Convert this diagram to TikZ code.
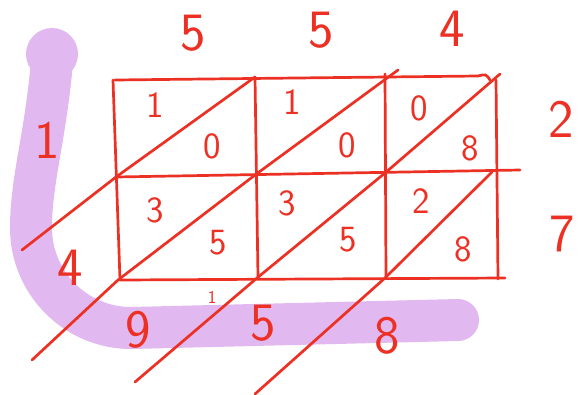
\documentclass[tikz,border=0pt]{standalone}
\usepackage{tikz}
\definecolor{pen}{RGB}{236,48,36}
\definecolor{marker}{RGB}{226,184,240}
\tikzset{
  ink/.style={draw=pen, line width=2.7pt, line cap=round, line join=round},
  cellnum/.style={text=pen, inner sep=0pt, font=\sffamily\fontsize{37}{37}\selectfont},
  bignum/.style={text=pen, inner sep=0pt, font=\sffamily\fontsize{54}{54}\selectfont},
  tinynum/.style={text=pen, inner sep=0pt, font=\sffamily\fontsize{18}{18}\selectfont}
}

\begin{document}
\begin{tikzpicture}[x=1pt,y=-1pt]
\useasboundingbox (0,0) rectangle (585,394);

% Маркер (сумма по диагоналям)
\draw[marker, line width=42pt, line cap=round]
  (52,62) .. controls (45,140) and (31,180) .. (31,228)
  .. controls (31,283) and (76,328) .. (131,328) -- (458,320);
\fill[marker] (52,54) circle (26pt);

% Углы сетки
\coordinate (tl) at (115,80);  \coordinate (tr) at (478,76);
\coordinate (bl) at (120,280); \coordinate (br) at (505,278);
\coordinate (ml) at (116,177); \coordinate (mr) at (520,170);
\coordinate (c1t) at (255,77); \coordinate (c1b) at (258,278);
\coordinate (c2t) at (385,74); \coordinate (c2b) at (386,278);
\coordinate (rt) at (496,80);  \coordinate (rb) at (498,279);

% Сетка
\draw[ink] (tl) -- (tr) .. controls (486,74) .. (490,80);
\draw[ink] (113,80) -- (bl);
\draw[ink] (c1t) -- (c1b);
\draw[ink] (c2t) -- (c2b);
\draw[ink] (rt) -- (rb);
\draw[ink] (ml) -- (mr);
\draw[ink] (bl) -- (br);

% Диагонали
\draw[ink] (c1t) -- (ml) -- (22,250);
\draw[ink] (398,70) -- (255,175) -- (118,280) -- (32,360);
\draw[ink] (500,74) -- (385,173) -- (257,278) -- (135,382);
\draw[ink] (492,172) -- (385,278) -- (255,394);

% Множители
\node[bignum] (a1) at (193,33) {5};
\node[bignum] (a2) at (321,30) {5};
\node[bignum] (a3) at (452,29) {4};
\node[bignum] (b1) at (561,119) {2};
\node[bignum] (b2) at (562,234) {7};

% Произведения в клетках
\foreach \name/\x/\y/\d in {p1/155/105/1, q1/212/146/0, p2/292/102/1, q2/347/145/0,
                            p3/419/108/0, q3/470/148/8, p4/155/210/3, q4/218/243/5,
                            p5/287/203/3, q5/348/240/5, p6/421/201/2, q6/463/249/8}
  \node[cellnum] (\name) at (\x,\y) {\d};

% Результат
\node[bignum] (r1) at (47,140) {1};
\node[bignum] (r2) at (70,268) {4};
\node[bignum] (r3) at (138,330) {9};
\node[tinynum] (cr) at (212,297) {1};
\node[bignum] (r4) at (263,323) {5};
\node[bignum] (r5) at (387,336) {8};
\end{tikzpicture}
\end{document}
